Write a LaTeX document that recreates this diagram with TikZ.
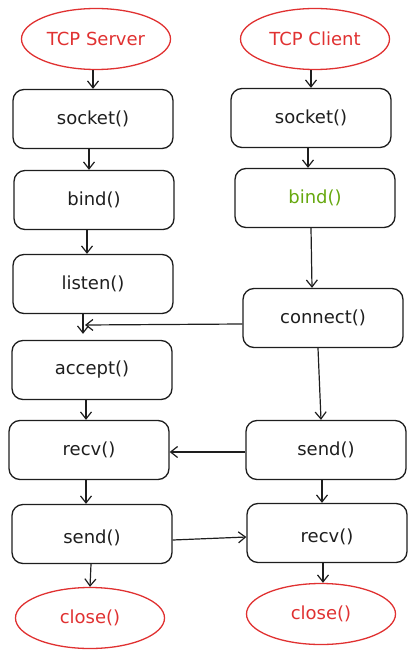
\documentclass[tikz,border=0pt]{standalone}
\usepackage{fontspec}
\setmainfont{DejaVu Sans}
\usetikzlibrary{arrows.meta,shapes.geometric}
\definecolor{ink}{HTML}{1E1E1E}
\definecolor{redx}{HTML}{E03131}
\definecolor{greenx}{HTML}{66A80F}
\begin{document}
\begin{tikzpicture}[x=1pt,y=-1pt,
  every node/.style={font=\fontsize{18}{21}\selectfont, text=ink},
  box/.style={draw=ink, line width=1.3pt, rounded corners=11pt, minimum width=160pt, minimum height=59pt, inner sep=0pt},
  lowtext/.style={text height=23pt, text depth=4.5pt},
  term/.style={ellipse, draw=redx, line width=1.3pt, text=redx, inner sep=0pt, minimum width=149pt, minimum height=61pt},
  link/.style={draw=ink, line width=1.2pt, -{Straight Barb[length=7pt,width=11pt]}}]
\useasboundingbox (0,0) rectangle (417,658);
% server column
\node[term] (ts) at (96,39) {TCP Server};
\node[box] (s1) at (93,119) {socket()};
\node[box] (s2) at (94,200) {bind()};
\node[box] (s3) at (93,284) {listen()};
\node[box] (s4) at (92,370) {accept()};
\node[box] (s5) at (89,450) {recv()};
\node[box, lowtext] (s6) at (92,534) {send()};
\node[term] (sc) at (90,618) {close()};
% client column
\node[term] (tc) at (315,39) {TCP Client};
\node[box] (c1) at (311,118) {socket()};
\node[box, text=greenx] (c2) at (315,198) {bind()};
\node[box] (c3) at (323,318) {connect()};
\node[box] (c4) at (326,450) {send()};
\node[box, lowtext] (c5) at (327,533) {recv()};
\node[term] (cc) at (321,614) {close()};
% server arrows
\draw[link] ([xshift=-3pt]ts.south) -- (s1.north);
\draw[link] ([xshift=-4pt]s1.south) -- ([xshift=-5pt]s2.north);
\draw[link] ([xshift=-7pt]s2.south) -- ([xshift=-6pt]s3.north);
\draw[link] ([xshift=-10pt]s3.south) -- ([xshift=-9pt,yshift=6pt]s4.north);
\coordinate (la) at (85,325);
\draw[link] ([xshift=-6pt]s4.south) -- ([xshift=-3pt]s5.north);
\draw[link] ([xshift=-3pt]s5.south) -- ([xshift=-6pt]s6.north);
\draw[link] ([xshift=-1pt]s6.south) -- (sc.north);
% client arrows
\draw[link] ([xshift=-4pt]tc.south) -- (c1.north);
\draw[link] ([xshift=-3pt]c1.south) -- ([xshift=-7pt]c2.north);
\draw[link] ([xshift=-4pt]c2.south) -- ([xshift=-11pt]c3.north);
\draw[link] ([xshift=-5pt]c3.south) -- ([xshift=-5pt]c4.north);
\draw[link] ([xshift=-4pt]c4.south) -- ([xshift=-5pt]c5.north);
\draw[link] ([xshift=-4pt]c5.south) -- ([xshift=2pt]cc.north);
% cross arrows
\draw[link] ([yshift=-6pt]c3.west) -- (la);
\draw[link] ([yshift=-2pt]c4.west) -- ([yshift=-2pt]s5.east);
\draw[link] ([yshift=-6pt]s6.east) -- ([yshift=-4pt]c5.west);
\end{tikzpicture}
\end{document}
